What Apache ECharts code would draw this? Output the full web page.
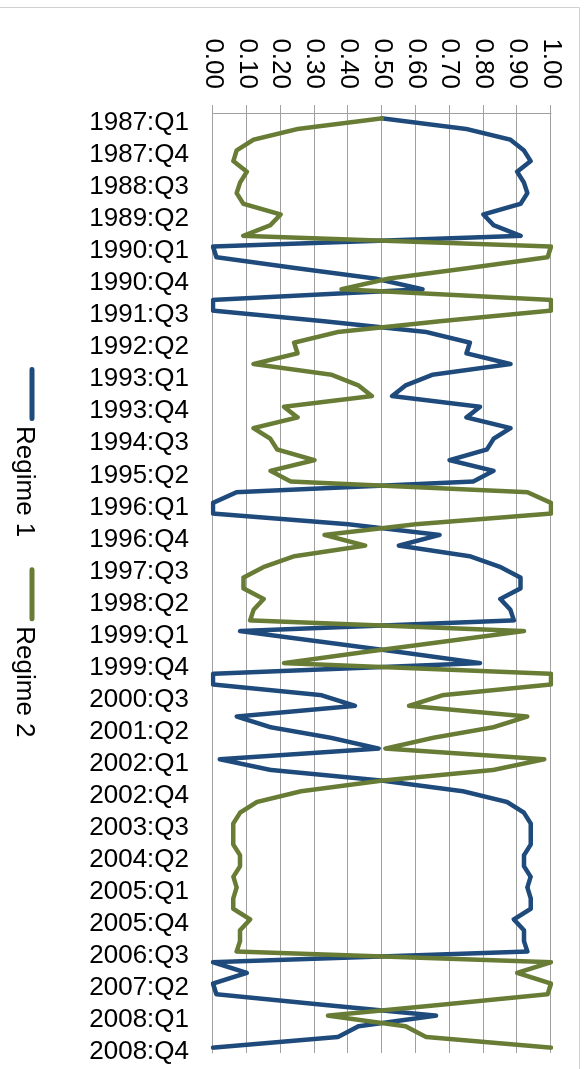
<!DOCTYPE html>
<html>
<head>
<meta charset="utf-8">
<script src="https://cdn.jsdelivr.net/npm/echarts@6/dist/echarts.min.js"></script>
<style>
    html, body { margin: 0; padding: 0; width: 587px; height: 1069px; overflow: hidden; background: #fff; }
    /* chart is drawn landscape and turned a quarter clockwise, like the source */
    #chart { position: absolute; left: 0; top: 0; width: 1069px; height: 587px;
             transform-origin: 0 0; transform: translate(587px, 0) rotate(90deg); }
</style>
</head>
<body>
<div id="chart"></div>
<script>
    // quarters 1987:Q1 .. 2008:Q4
    var firstYear = 1987
    var lastYear = 2008
    var categories = []
    for (var y = firstYear; y <= lastYear; y++) {
        for (var q = 1; q <= 4; q++) {
            categories.push(y + ':Q' + q)
        }
    }

    var seriesNames = ['Regime 1', 'Regime 2']

    var regime1 = [
        0.50, 0.75, 0.88, 0.92, 0.94, 0.90, 0.92, 0.93, 0.91, 0.80, 0.83, 0.91,
        0.00, 0.01, 0.24, 0.48, 0.62, 0.00, 0.00, 0.33, 0.63, 0.76, 0.75, 0.88,
        0.65, 0.57, 0.53, 0.79, 0.75, 0.88, 0.83, 0.81, 0.70, 0.83, 0.77, 0.07,
        0.00, 0.00, 0.40, 0.67, 0.55, 0.76, 0.85, 0.91, 0.91, 0.85, 0.88, 0.89,
        0.08, 0.32, 0.56, 0.79, 0.00, 0.00, 0.32, 0.42, 0.07, 0.17, 0.35, 0.49,
        0.02, 0.17, 0.50, 0.74, 0.87, 0.92, 0.94, 0.94, 0.94, 0.92, 0.92, 0.94,
        0.93, 0.94, 0.94, 0.89, 0.92, 0.92, 0.93, 0.00, 0.10, 0.00, 0.01, 0.33,
        0.66, 0.43, 0.37, 0.00
    ]

    var regime2 = [
        0.50, 0.25, 0.12, 0.07, 0.06, 0.10, 0.08, 0.07, 0.09, 0.20, 0.17, 0.09,
        1.00, 0.99, 0.76, 0.52, 0.38, 1.00, 1.00, 0.67, 0.37, 0.24, 0.25, 0.12,
        0.35, 0.43, 0.47, 0.21, 0.25, 0.12, 0.17, 0.19, 0.30, 0.17, 0.23, 0.93,
        1.00, 1.00, 0.60, 0.33, 0.45, 0.24, 0.15, 0.09, 0.09, 0.15, 0.12, 0.11,
        0.92, 0.68, 0.44, 0.21, 1.00, 1.00, 0.68, 0.58, 0.93, 0.83, 0.65, 0.51,
        0.98, 0.83, 0.50, 0.26, 0.13, 0.08, 0.06, 0.06, 0.06, 0.08, 0.08, 0.06,
        0.07, 0.06, 0.06, 0.11, 0.08, 0.08, 0.07, 1.00, 0.90, 1.00, 0.99, 0.67,
        0.34, 0.57, 0.63, 1.00
    ]

    var colors = ['#1f4a7c', '#687c35']
    var gridColor = '#a0a0a0'
    var fontFamily = '"Liberation Sans", Arial, sans-serif'

    // key line: rounded bar in the upper part of a 54x21 box (the last
    // zero-length move only stretches the box), so it sits above the text middle
    var keyIcon = 'path://M2.5,0L51.5,0A2.5,2.5,0,0,1,51.5,5L2.5,5A2.5,2.5,0,0,1,2.5,0ZM27,21L27,21'

    var mChart = echarts.init(document.getElementById('chart'), null, { renderer: 'canvas' })

    var option = {
        animation: false,
        color: colors,
        textStyle: { fontFamily: fontFamily },
        grid: {
            left: 113,
            right: 16,
            top: 36,
            bottom: 213
        },
        legend: {
            data: seriesNames,
            left: 362,
            top: 545,
            icon: keyIcon,
            symbolKeepAspect: false,
            itemWidth: 54,
            itemHeight: 21,
            itemGap: 30,
            itemStyle: { borderWidth: 0 },
            textStyle: { fontSize: 26, color: '#000', fontFamily: fontFamily }
        },
        graphic: [
            {
                // outer chart frame (partly cut off by the picture edge)
                type: 'rect',
                silent: true,
                shape: { x: 7.5, y: 7.5, width: 1200, height: 700 },
                style: { fill: 'none', stroke: '#d0d0d0', lineWidth: 1 }
            }
        ],
        xAxis: {
            type: 'category',
            data: categories,
            boundaryGap: true,
            axisLine: { lineStyle: { color: gridColor, width: 1 } },
            axisTick: { interval: 0, length: 8, lineStyle: { color: gridColor } },
            axisLabel: {
                interval: 2,
                rotate: 90,
                margin: 24,
                fontSize: 26,
                color: '#000',
                fontFamily: fontFamily,
                // nudge labels a few px past the category centre, as in the source
                verticalAlign: 'top',
                lineHeight: 9
            },
            splitLine: { show: false }
        },
        yAxis: {
            type: 'value',
            min: 0,
            max: 1,
            interval: 0.1,
            axisLine: { show: true, lineStyle: { color: gridColor, width: 1 } },
            axisTick: { show: true, length: 8, lineStyle: { color: gridColor } },
            axisLabel: {
                margin: 24,
                fontSize: 26,
                color: '#000',
                fontFamily: fontFamily,
                formatter: function (v) { return v.toFixed(2) }
            },
            splitLine: { show: true, lineStyle: { color: gridColor, width: 1 } }
        },
        series: [
            {
                name: seriesNames[0],
                type: 'line',
                data: regime1,
                symbol: 'none',
                lineStyle: { width: 4.5, color: colors[0], cap: 'round', join: 'round' }
            },
            {
                name: seriesNames[1],
                type: 'line',
                data: regime2,
                symbol: 'none',
                lineStyle: { width: 4.5, color: colors[1], cap: 'round', join: 'round' }
            }
        ]
    }

    mChart.setOption(option)
</script>
</body>
</html>
